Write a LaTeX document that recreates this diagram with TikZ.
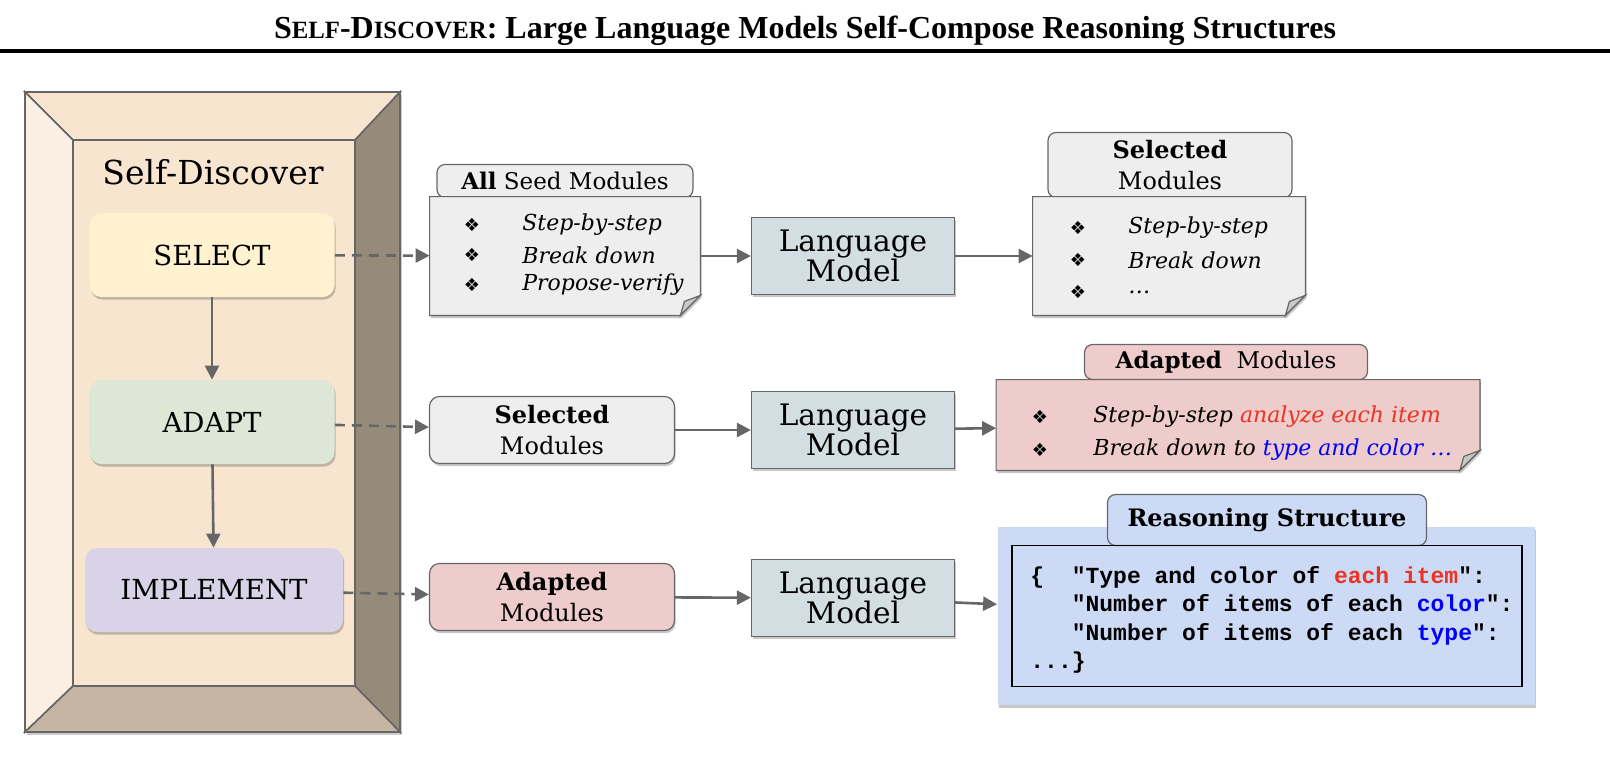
\documentclass[tikz,border=0pt]{standalone}
\usepackage{fontspec}
\setmainfont{DejaVu Serif}
\newfontfamily\titlefont{Liberation Serif}
\newfontfamily\symfont{DejaVu Sans}
\newfontfamily\codefont{Liberation Mono}
\usetikzlibrary{arrows.meta, positioning, shadows}

\definecolor{linegray}{HTML}{666666}
\definecolor{framelight}{HTML}{FBEEE2}
\definecolor{frameinner}{HTML}{F8E5D0}
\definecolor{framedark}{HTML}{968A7B}
\definecolor{framebottom}{HTML}{C5B5A2}
\definecolor{selectfill}{HTML}{FEF2D0}
\definecolor{adaptfill}{HTML}{DCE8D5}
\definecolor{implfill}{HTML}{D8D3E7}
\definecolor{notegray}{HTML}{EEEEEE}
\definecolor{foldgray}{HTML}{C8C8C8}
\definecolor{lmfill}{HTML}{D3DEE3}
\definecolor{redfill}{HTML}{EECCCB}
\definecolor{bluefill}{HTML}{CCDAF5}
\definecolor{codered}{HTML}{EA3323}
\definecolor{codeblue}{HTML}{0000FF}

\newcommand{\capsmall}[2]{#1{\fontsize{12.4}{13}\selectfont #2}}

% note with a folded corner, drawn round an empty node
\newcommand{\dogear}[2]{%
  \path[draw=linegray, line width=0.6pt, fill=#2, softshadow]
    (#1.north west) -- (#1.north east) -- ([yshift=10pt]#1.south east)
    -- ([xshift=-10pt]#1.south east) -- (#1.south west) -- cycle;
  \path[draw=linegray, line width=0.6pt, fill=foldgray]
    ([yshift=10pt]#1.south east) -- ([xshift=-8pt,yshift=7pt]#1.south east)
    -- ([xshift=-10pt]#1.south east) -- cycle;}

\tikzset{
  >={Triangle[length=7pt,width=7pt]},
  softshadow/.style={drop shadow={shadow xshift=0.6pt,shadow yshift=-1.3pt,opacity=0.22,fill=black}},
  stagebox/.style={rounded corners=6pt, minimum width=122.5pt, minimum height=42pt,
    font=\fontsize{13.8}{16}\selectfont, softshadow},
  tabbox/.style={draw=linegray, line width=0.6pt, rounded corners=4pt, align=center, inner sep=0pt},
  lmbox/.style={draw=linegray, line width=0.6pt, fill=lmfill, minimum width=101.5pt,
    minimum height=38.5pt, align=center, font=\fontsize{14.8}{15}\selectfont, softshadow},
  modbox/.style={draw=linegray, line width=0.6pt, rounded corners=5pt, minimum width=122.5pt,
    minimum height=33.5pt, align=center, inner sep=0pt, font=\fontsize{12}{15.5}\selectfont, softshadow},
  notebox/.style 2 args={minimum width=#1, minimum height=#2, inner sep=0pt},
  flow/.style={->, draw=linegray, line width=1.3pt},
  dashflow/.style={flow, dash pattern=on 5pt off 3.5pt},
  bullet/.style={font=\symfont\fontsize{9}{9}\selectfont, inner sep=0pt},
  item/.style={anchor=west, font=\itshape\fontsize{11}{11}\selectfont, inner sep=0pt},
}

\begin{document}
\begin{tikzpicture}[x=0.5pt,y=-0.5pt]
\useasboundingbox (0,0) rectangle (1610,768);

% title
\node[font=\titlefont\bfseries\fontsize{16}{16}\selectfont] (title) at (805,31)
  {\capsmall{S}{ELF}-\capsmall{D}{ISCOVER}: Large Language Models Self-Compose Reasoning Structures};
\draw[line width=1.6pt] (0,51) -- (1610,51);

% frame
\fill[black, opacity=0.2] (27,95) rectangle (402,735);
\filldraw[draw=linegray, line width=0.8pt, fill=frameinner] (25,92) -- (400,92) -- (355,140) -- (73,140) -- cycle;
\filldraw[draw=linegray, line width=0.8pt, fill=framelight] (25,92) -- (73,140) -- (73,686) -- (25,732) -- cycle;
\filldraw[draw=linegray, line width=0.8pt, fill=framedark] (400,92) -- (400,732) -- (355,686) -- (355,140) -- cycle;
\filldraw[draw=linegray, line width=0.8pt, fill=framebottom] (25,732) -- (400,732) -- (355,686) -- (73,686) -- cycle;
\filldraw[draw=linegray, line width=0.8pt, fill=frameinner] (73,140) rectangle (355,686);

\node[font=\fontsize{16.5}{16.5}\selectfont] (selfd) at (213,172) {Self-Discover};
\node[stagebox, fill=selectfill] (select) at (212,255) {SELECT};
\node[stagebox, fill=adaptfill] (adapt) at (212,422) {ADAPT};
\node[stagebox, fill=implfill, minimum width=129pt] (implement) at (214,590) {IMPLEMENT};
\draw[flow] (select) -- (adapt);
\draw[flow] (adapt) -- (implement);

% row 1: select
\node[tabbox, fill=notegray, minimum width=128pt, minimum height=16.5pt,
  font=\fontsize{11.5}{11.5}\selectfont] (seedtab) at (565,181) {\textbf{All} Seed Modules};
\node[notebox={135pt}{59pt}] (seed) at (565,256) {};
\dogear{seed}{notegray}
\foreach \n/\y/\txt in {1/225/Step-by-step, 2/255/Break down, 3/285/Propose-verify} {
  \node[bullet] (seedb\n) at (472,\y) {❖};
  \node[item] (seedt\n) at (522,\y) {\txt};
}
\node[lmbox] (lm1) at (853,256) {Language\\Model};
\node[tabbox, fill=notegray, minimum width=122pt, minimum height=32.5pt,
  font=\fontsize{12}{15.5}\selectfont] (seltab) at (1170,165) {\textbf{Selected}\\Modules};
\node[notebox={136pt}{59pt}] (selnote) at (1169,256) {};
\dogear{selnote}{notegray}
\foreach \n/\y/\txt in {1/228/Step-by-step, 2/260/Break down, 3/292/\ldots} {
  \node[bullet] (selb\n) at (1078,\y) {❖};
  \node[item] (selt\n) at (1128,\y) {\txt};
}
\draw[dashflow] (select) -- (seed);
\draw[flow] (seed) -- (lm1);
\draw[flow] (lm1) -- (selnote);

% row 2: adapt
\node[modbox, fill=notegray] (selmod) at (552,430) {\textbf{Selected}\\Modules};
\node[lmbox] (lm2) at (853,430) {Language\\Model};
\node[tabbox, fill=redfill, minimum width=141.5pt, minimum height=17.5pt,
  font=\fontsize{11.5}{11.5}\selectfont] (adtab) at (1226,362) {\textbf{Adapted}\ \ Modules};
\node[notebox={241.5pt}{45pt}] (adnote) at (1238,425) {};
\dogear{adnote}{redfill}
\node[bullet] (adb1) at (1040,417) {❖};
\node[item] (adt1) at (1093,417) {Step-by-step \textcolor{codered}{analyze each item}};
\node[bullet] (adb2) at (1040,450) {❖};
\node[item] (adt2) at (1093,450) {Break down to \textcolor{codeblue}{type and color \ldots}};
\draw[dashflow] (adapt) -- (selmod);
\draw[flow] (selmod) -- (lm2);
\draw[flow] (lm2) -- (adnote);

% row 3: implement
\node[modbox, fill=redfill] (admod) at (552,597) {\textbf{Adapted}\\Modules};
\node[lmbox] (lm3) at (853,598) {Language\\Model};
\node[fill=bluefill, minimum width=268.5pt, minimum height=89pt, softshadow] (rspanel) at (1266,616) {};
\node[tabbox, fill=bluefill, minimum width=159.5pt, minimum height=25.5pt,
  font=\bfseries\fontsize{12}{12}\selectfont] (rstab) at (1267,520) {Reasoning Structure};
\node[draw=black, line width=0.7pt, minimum width=255pt, minimum height=70.5pt] (rsbox) at (1267,616) {};
\node[anchor=west, align=left, inner sep=0pt, font=\codefont\bfseries\fontsize{11.5}{14.2}\selectfont] (rscode) at (1030,620)
  {\{~~"Type and color of \textcolor{codered}{each item}":\\
   ~~~"Number of items of each \textcolor{codeblue}{color}":\\
   ~~~"Number of items of each \textcolor{codeblue}{type}":\\
   ...\}};
\draw[dashflow] (implement) -- (admod);
\draw[flow] (admod) -- (lm3);
\draw[flow] (lm3) -- (rspanel);
\end{tikzpicture}
\end{document}
